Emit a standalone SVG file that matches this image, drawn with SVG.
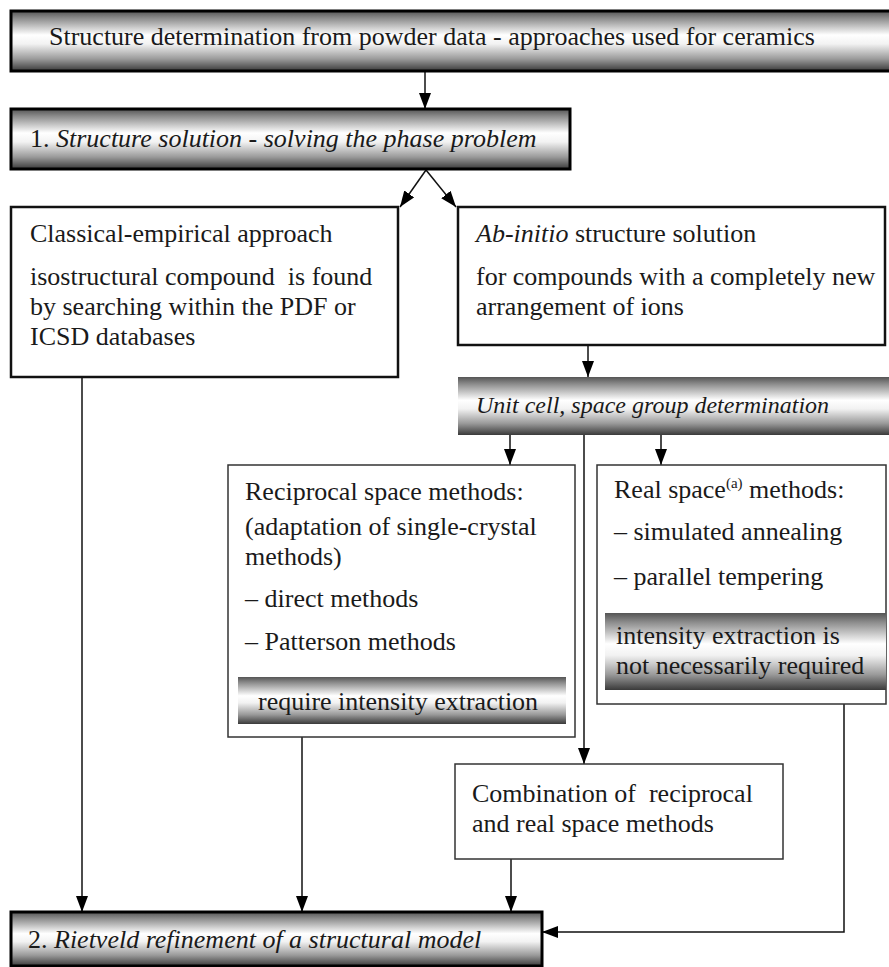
<svg xmlns="http://www.w3.org/2000/svg" width="889" height="967" viewBox="0 0 889 967">
<defs>
<linearGradient id="chrome" x1="0" y1="0" x2="0" y2="1">
<stop offset="0" stop-color="#555555"/>
<stop offset="0.12" stop-color="#8c8c8c"/>
<stop offset="0.4" stop-color="#ffffff"/>
<stop offset="0.55" stop-color="#f2f2f2"/>
<stop offset="0.8" stop-color="#9a9a9a"/>
<stop offset="1" stop-color="#3a3a3a"/>
</linearGradient>
<marker id="ah" viewBox="0 0 16 12" refX="16" refY="6" markerWidth="16" markerHeight="12" markerUnits="userSpaceOnUse" orient="auto">
<path d="M0,0 L16,6 L0,12 z" fill="#000"/>
</marker>
<style>
text{font-family:"Liberation Serif","Times New Roman",serif;font-size:26px;fill:#1a1a1a;white-space:pre}
.it{font-style:italic}
.sup{font-size:15px}
.banner{fill:url(#chrome);stroke:#000;stroke-width:3}
.bar{fill:url(#chrome);stroke:none}
.thick{fill:#fff;stroke:#111;stroke-width:2.5}
.thin{fill:#fff;stroke:#333;stroke-width:1.5}
.conn{fill:none;stroke:#111;stroke-width:1.5}
.arr{marker-end:url(#ah)}
</style>
</defs>
<rect width="889" height="967" fill="#fff"/>
<g id="connectors">
<line class="conn arr" x1="425" y1="71" x2="425" y2="109"/>
<line class="conn arr" x1="426" y1="170" x2="400" y2="207"/>
<line class="conn arr" x1="426" y1="170" x2="456" y2="207"/>
<line class="conn arr" x1="588" y1="345" x2="588" y2="377"/>
<line class="conn arr" x1="510" y1="435" x2="510" y2="465"/>
<line class="conn arr" x1="584" y1="435" x2="584" y2="764"/>
<line class="conn arr" x1="661" y1="435" x2="661" y2="465"/>
<line class="conn arr" x1="82" y1="377" x2="82" y2="912"/>
<line class="conn arr" x1="302" y1="737" x2="302" y2="912"/>
<line class="conn arr" x1="511" y1="859" x2="511" y2="912"/>
<path class="conn arr" d="M844,704 V932 H542"/>
</g>
<g id="title">
<rect class="banner" x="11" y="11" width="884" height="60"/>
<text x="49" y="45">Structure determination from powder data - approaches used for ceramics</text>
</g>
<g id="structure-solution">
<rect class="banner" x="11" y="109" width="559" height="60"/>
<text x="30" y="147">1. <tspan class="it">Structure solution - solving the phase problem</tspan></text>
</g>
<g id="classical">
<rect class="thick" x="11" y="207" width="387" height="170"/>
<text x="30" y="242">Classical-empirical approach</text>
<text x="30" y="285">isostructural compound  is found</text>
<text x="30" y="315">by searching within the PDF or</text>
<text x="30" y="345">ICSD databases</text>
</g>
<g id="ab-initio">
<rect class="thick" x="458" y="207" width="427" height="138"/>
<text x="476" y="242"><tspan class="it">Ab-initio</tspan> structure solution</text>
<text x="476" y="285">for compounds with a completely new</text>
<text x="476" y="315">arrangement of ions</text>
</g>
<g id="unit-cell">
<rect class="bar" x="458" y="377" width="431" height="58"/>
<text class="it" x="476" y="413" style="font-size:24px">Unit cell, space group determination</text>
</g>
<g id="reciprocal">
<rect class="thin" x="228" y="465" width="347" height="272"/>
<text x="245" y="500">Reciprocal space methods:</text>
<text x="245" y="535">(adaptation of single-crystal</text>
<text x="245" y="565">methods)</text>
<text x="245" y="607">– direct methods</text>
<text x="245" y="650">– Patterson methods</text>
<rect class="bar" x="238" y="677" width="328" height="47"/>
<text x="258" y="710">require intensity extraction</text>
</g>
<g id="real-space">
<rect class="thin" x="597" y="465" width="289" height="239"/>
<text x="614" y="498">Real space<tspan class="sup" dy="-10">(a)</tspan><tspan dy="10"> methods:</tspan></text>
<text x="614" y="540">– simulated annealing</text>
<text x="614" y="585">– parallel tempering</text>
<rect class="bar" x="605" y="613" width="281" height="77"/>
<text x="616" y="644">intensity extraction is</text>
<text x="616" y="674">not necessarily required</text>
</g>
<g id="combination">
<rect class="thin" x="455" y="764" width="328" height="95"/>
<text x="472" y="802">Combination of  reciprocal</text>
<text x="472" y="832">and real space methods</text>
</g>
<g id="rietveld">
<rect class="banner" x="11" y="912" width="531" height="54"/>
<text x="28" y="948">2. <tspan class="it">Rietveld refinement of a structural model</tspan></text>
</g>
</svg>
